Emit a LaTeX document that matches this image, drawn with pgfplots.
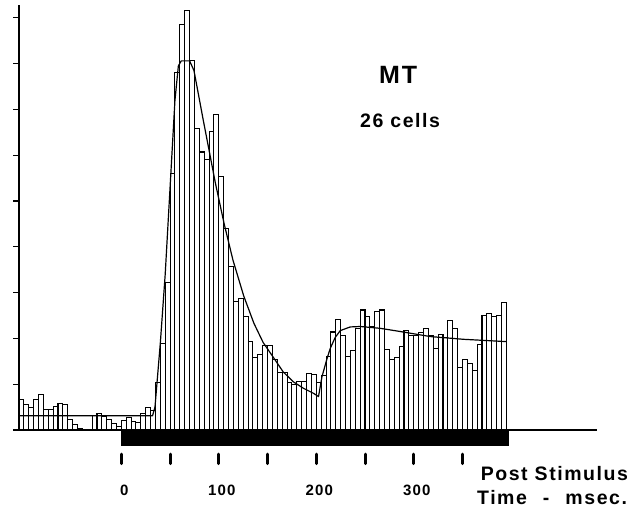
\documentclass[border=0pt]{standalone}
\usepackage{pgfplots}
\pgfplotsset{compat=1.18}
\usepackage{fontspec}
\setmainfont{Liberation Sans}
\newfontfamily\labfont[LetterSpace=8]{Liberation Sans}

% Peri-stimulus time histogram, 5 ms bins (left edges), final row closes the last bin
\pgfplotstableread{
x y
-105 0.66
-100 0.55
-95 0.50
-90 0.66
-85 0.77
-80 0.45
-75 0.45
-70 0.51
-65 0.58
-60 0.55
-55 0.22
-50 0.13
-45 0.04
-40 0
-35 0
-30 0.31
-25 0.36
-20 0.29
-15 0.22
-10 0.15
-5 0.07
0 0.20
5 0.27
10 0.18
15 0.16
20 0.36
25 0.50
30 0.42
35 1.03
40 1.89
45 3.22
50 5.60
55 7.80
60 8.86
65 9.15
70 8.06
75 6.59
80 6.07
85 5.90
90 6.51
95 6.88
100 5.53
105 4.40
110 3.57
115 2.80
120 2.88
125 2.47
130 1.93
135 1.59
140 1.64
145 1.85
150 1.85
155 1.53
160 1.25
165 1.25
170 1.03
175 1.00
180 1.05
185 1.05
190 1.24
195 1.22
200 1.03
205 1.20
210 1.60
215 2.14
220 2.42
225 2.07
230 1.60
235 1.73
240 2.22
245 2.62
250 2.47
255 2.26
260 2.58
265 2.62
270 1.75
275 1.53
280 1.59
285 1.82
290 2.17
295 2.06
300 2.06
305 2.12
310 2.22
315 2.07
320 1.78
325 2.09
330 2.02
335 2.39
340 2.22
345 1.37
350 1.53
355 1.46
360 1.30
365 1.87
370 2.51
375 2.55
380 2.47
385 2.49
390 2.78
395 2.78
}\psth

\begin{document}
\begin{tikzpicture}
\path[use as bounding box] (0,0) rectangle (630pt,518pt);
\begin{axis}[
  at={(19pt,88pt)}, anchor=south west,
  scale only axis, width=578pt, height=425pt,
  xmin=-105, xmax=488, ymin=0, ymax=9.28,
  axis lines=left,
  axis line style={-, line width=1.3pt},
  clip=false,
  ytick={0,1,...,9}, yticklabels={,,,,,,,,,},
  ytick align=outside, major tick length=6pt,
  ytick style={line width=1.3pt, black},
  xtick={0,100,200,300},
  xticklabels={0,100,200,300},
  xtick style={draw=none},
  xticklabel style={font=\labfont\bfseries\fontsize{15}{17}\selectfont, anchor=north, yshift=-49pt, xshift=3pt},
]
% histogram bars
\addplot[ybar interval, fill=white, draw=black, line width=1.05pt] table[x=x, y=y] {\psth};
% fitted response curve
\addplot[black, line width=1.2pt, line join=round] coordinates {
(-105,0.31) (32,0.31) (34.5,0.5) (40,1.9) (45,3.4) (50,5.3) (55,7.2) (58.5,7.95)
(61.5,8.06) (70,8.06) (74.5,7.85) (84,6.77) (96.5,5.39) (105.5,4.5) (114.5,3.71)
(125.5,2.93) (136,2.33) (145.5,1.91) (155.5,1.6) (166,1.27) (176.6,1.05) (186.9,0.91)
(197.2,0.8) (202.3,0.73) (205.8,1.16) (210.9,1.55) (214.3,1.78) (219.4,2.02)
(224.6,2.17) (234.8,2.25) (245.1,2.26) (265.6,2.22) (286.2,2.15) (317,2.04)
(351.2,1.98) (395,1.93)};
% stimulus bar
\addplot[fill=black, draw=black] coordinates {(0,-0.33) (397,-0.33)} \closedcycle;
% time markers every 50 ms
\addplot[only marks, mark=|, mark size=4.8pt, mark options={line width=3pt, line cap=round}]
  coordinates {(0,-0.63) (50,-0.63) (100,-0.63) (150,-0.63) (200,-0.63) (250,-0.63) (300,-0.63) (350,-0.63)};
\node[font=\labfont\bfseries\fontsize{25}{28}\selectfont] at (axis cs:284,7.75) {MT};
\node[font=\labfont\bfseries\fontsize{19.5}{22}\selectfont] at (axis cs:286,6.75) {26 cells};
\node[anchor=base east, inner sep=0pt, font=\labfont\bfseries\fontsize{19.5}{22}\selectfont] at (axis cs:520,-1.11) {Post Stimulus};
\node[anchor=base east, inner sep=0pt, font=\labfont\bfseries\fontsize{19.5}{22}\selectfont] at (axis cs:519,-1.62) {Time\hspace{16pt}-\hspace{16pt}msec.};
\end{axis}
\end{tikzpicture}
\end{document}
